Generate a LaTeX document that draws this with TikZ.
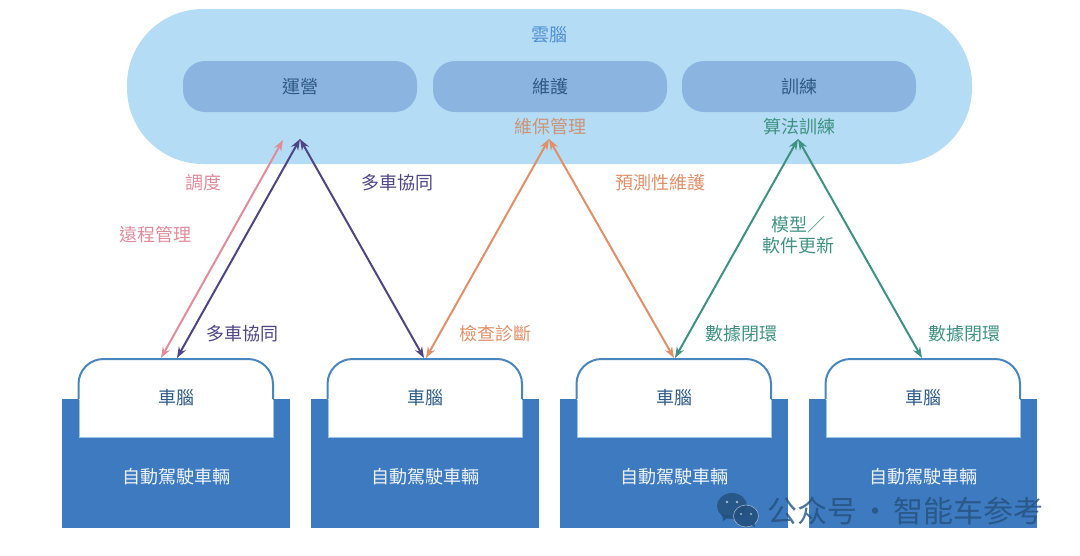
\documentclass[tikz,border=0pt]{standalone}
\usepackage{fontspec}
\setmainfont{Noto Sans CJK TC}[BoldFont={Noto Sans CJK TC}]
\newfontfamily\cnfont{Noto Sans CJK SC}
\usetikzlibrary{arrows.meta}
\definecolor{cloudc}{HTML}{B5DCF5}
\definecolor{innerc}{HTML}{8BB5E0}
\definecolor{boxc}{HTML}{3D7ABF}
\definecolor{cabc}{HTML}{4A86BE}
\definecolor{cabl}{HTML}{9CC4E6}
\definecolor{darkt}{HTML}{2F5A86}
\definecolor{cloudt}{HTML}{4F8FD0}
\definecolor{pinkc}{HTML}{E08C9C}
\definecolor{purpc}{HTML}{4F4583}
\definecolor{orgc}{HTML}{E08F68}
\definecolor{orgd}{HTML}{C99478}
\definecolor{grnc}{HTML}{3F9283}
\definecolor{wmc}{HTML}{24507E}
\tikzset{
 x=1pt,y=-1pt,
 lab/.style={font=\fontsize{18}{21}\selectfont,inner sep=0pt},
 cloudbox/.style={rounded corners=76,fill=cloudc},
 innerbox/.style={lab,fill=innerc,rounded corners=22,minimum width=234,minimum height=51,text=darkt},
 vehbox/.style={lab,fill=boxc,minimum width=228,minimum height=129,text=white!92!boxc},
 dbl/.style={{Stealth[length=11,width=8]}-{Stealth[length=11,width=8]},line width=2},
 cabtext/.style={lab,text=darkt},
}
\begin{document}
\begin{tikzpicture}
\useasboundingbox (0,0) rectangle (1080,555);
\fill[cloudbox] (127,9) rectangle (972,164);
\node[lab,text=cloudt] (cloud) at (549.5,35) {雲腦};
\node[innerbox] (ops) at (300,86.5) {運營};
\node[innerbox] (mnt) at (550,86.5) {維護};
\node[innerbox] (trn) at (799,86.5) {訓練};
\node[lab,text=orgd] (l1) at (550,127) {維保管理};
\node[lab,text=grnc] (l2) at (799,127) {算法訓練};
\foreach \i/\x in {1/62,2/311,3/560,4/809}{
 \node[vehbox] (veh\i) at (\x+114,463.5) {};
 \fill[white,rounded corners=25] (\x+16.5,420) -- (\x+16.5,359) -- (\x+211,359) -- (\x+211,420) -- cycle;
 \fill[white] (\x+16.5,399) rectangle (\x+211,437);
 \draw[cabl,line width=1] (\x+17,400) -- (\x+17,437) -- (\x+211,437) -- (\x+211,400);
 \draw[cabc,line width=2,rounded corners=25] (\x+16.5,399) -- (\x+16.5,359) -- (\x+211,359) -- (\x+211,399);
 \node[cabtext] (cab\i) at (\x+114,397.5) {車腦};
 \node[lab,text=white!92!boxc] (vt\i) at (\x+114.5,477) {自動駕駛車輛};
}
\coordinate (p1) at (161,358);
\coordinate (p2) at (283,140);
\coordinate (a1) at (177,358);
\coordinate (a2) at (300,139);
\coordinate (a3) at (424,358);
\coordinate (o1) at (426,358);
\coordinate (o2) at (549,139);
\coordinate (o3) at (674,358);
\coordinate (g1) at (675,358);
\coordinate (g2) at (798,139);
\coordinate (g3) at (922,358);
\draw[dbl,pinkc] (p1) -- (p2);
\draw[dbl,purpc] (a1) -- (a2);
\draw[dbl,purpc] (a2) -- (a3);
\draw[dbl,orgc] (o1) -- (o2);
\draw[dbl,orgc] (o2) -- (o3);
\draw[dbl,grnc] (g1) -- (g2);
\draw[dbl,grnc] (g2) -- (g3);
\node[lab,text=pinkc] (t1) at (203,183) {調度};
\node[lab,text=pinkc] (t2) at (155,235) {遠程管理};
\node[lab,text=purpc] (t3) at (397,183) {多車協同};
\node[lab,text=purpc] (t4) at (242,334) {多車協同};
\node[lab,text=orgc] (t5) at (495,334) {檢查診斷};
\node[lab,text=orgc] (t6) at (660,183) {預測性維護};
\node[lab,text=grnc] (t7) at (741,334) {數據閉環};
\node[lab,text=grnc] (t8) at (964,334) {數據閉環};
\node[lab,text=grnc,align=center] (t9) at (798,235.5) {模型／\\軟件更新};
% watermark
\begin{scope}[wmc,opacity=.82]
\fill (732,506) ellipse (15 and 13);
\fill (722,514) -- (723,521) -- (731,516) -- cycle;
\end{scope}
\begin{scope}[wmc,opacity=.9]
\fill[draw=white!60!wmc,line width=.6] (746,516) ellipse (12.5 and 11);
\fill (750,524) -- (755,527) -- (754,521) -- cycle;
\end{scope}
\fill[white!60!wmc] (727,502) circle (1.3) (737,502) circle (1.3) (741,514) circle (1.2) (751,514) circle (1.2);
\node[inner sep=0pt,anchor=west,text=wmc,opacity=.8,font=\cnfont\fontsize{30}{32}\selectfont] (wm) at (767,511) {公众号\hspace{3pt}·\hspace{3pt}智能车参考};
\end{tikzpicture}
\end{document}
